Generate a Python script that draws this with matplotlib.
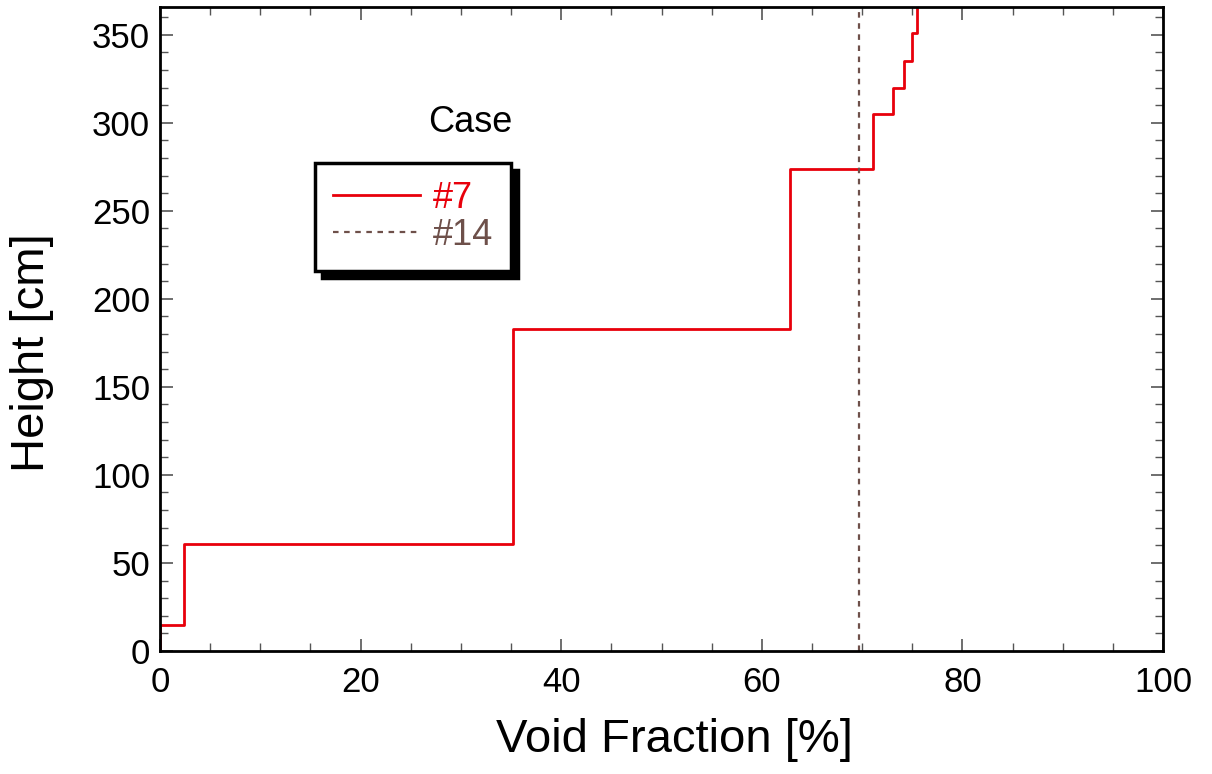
import matplotlib
matplotlib.use("Agg")
import matplotlib.pyplot as plt
from matplotlib.ticker import MultipleLocator

plt.rcParams['font.family'] = ['Liberation Sans', 'DejaVu Sans']

# Case #7: step profile (height boundaries in cm, void fraction per segment in %)
heights_7 = [0, 15, 61, 183, 274, 305, 320, 335, 351, 366]
void_7 = [0.0, 2.4, 35.2, 62.8, 71.1, 73.1, 74.2, 75.0, 75.5]
# Case #14: constant void fraction
heights_14 = [0, 366]
void_14 = [69.7, 69.7]

labels = ["#7", "#14"]
colors = ["#e8000b", "#6e504a"]

fig = plt.figure(figsize=(12.12, 7.74), dpi=100)
ax = fig.add_axes([0.132, 0.159, 0.8276, 0.832])

# build step path from segments
xs, ys = [], []
for i, v in enumerate(void_7):
    xs += [v, v]
    ys += [heights_7[i], heights_7[i + 1]]
ax.plot(xs, ys, color=colors[0], lw=2, label=labels[0])
ax.plot(void_14, heights_14, color=colors[1], lw=1.6, ls=(0, (2.5, 2.5)), label=labels[1])

ax.set_xlim(0, 100)
ax.set_ylim(0, 365.76)
ax.xaxis.set_major_locator(MultipleLocator(20))
ax.xaxis.set_minor_locator(MultipleLocator(5))
ax.yaxis.set_major_locator(MultipleLocator(50))
ax.yaxis.set_minor_locator(MultipleLocator(10))
ax.tick_params(which='both', direction='in', top=True, right=True, color='#555555')
ax.tick_params(which='major', length=9, width=1.2, labelsize=25)
ax.tick_params(axis='x', which='major', pad=11)
ax.tick_params(axis='y', which='major', pad=7)
ax.tick_params(which='minor', length=6, width=1.0)
for s in ax.spines.values():
    s.set_linewidth(2)

ax.set_xlabel("Void Fraction [%]", fontsize=34, va='center')
ax.set_ylabel("Height [cm]", fontsize=34, va='center')
ax.xaxis.set_label_coords(0.513, -0.138)
ax.yaxis.set_label_coords(-0.128, 0.463)

leg = ax.legend(loc='upper left', bbox_to_anchor=(0.1545, 0.758), borderaxespad=0,
                fontsize=26, handlelength=2.4, handletextpad=0.36, labelspacing=0.05,
                borderpad=0.5, fancybox=False, framealpha=1,
                shadow={'ox': 5, 'oy': -5, 'color': 'black', 'alpha': 1})
leg.get_frame().set_edgecolor('black')
leg.get_frame().set_linewidth(2.5)
for t, c in zip(leg.get_texts(), colors):
    t.set_color(c)
ax.text(0.309, 0.82, "Case", transform=ax.transAxes, fontsize=26, ha='center', va='center')

fig.savefig("out.png", dpi=100)
